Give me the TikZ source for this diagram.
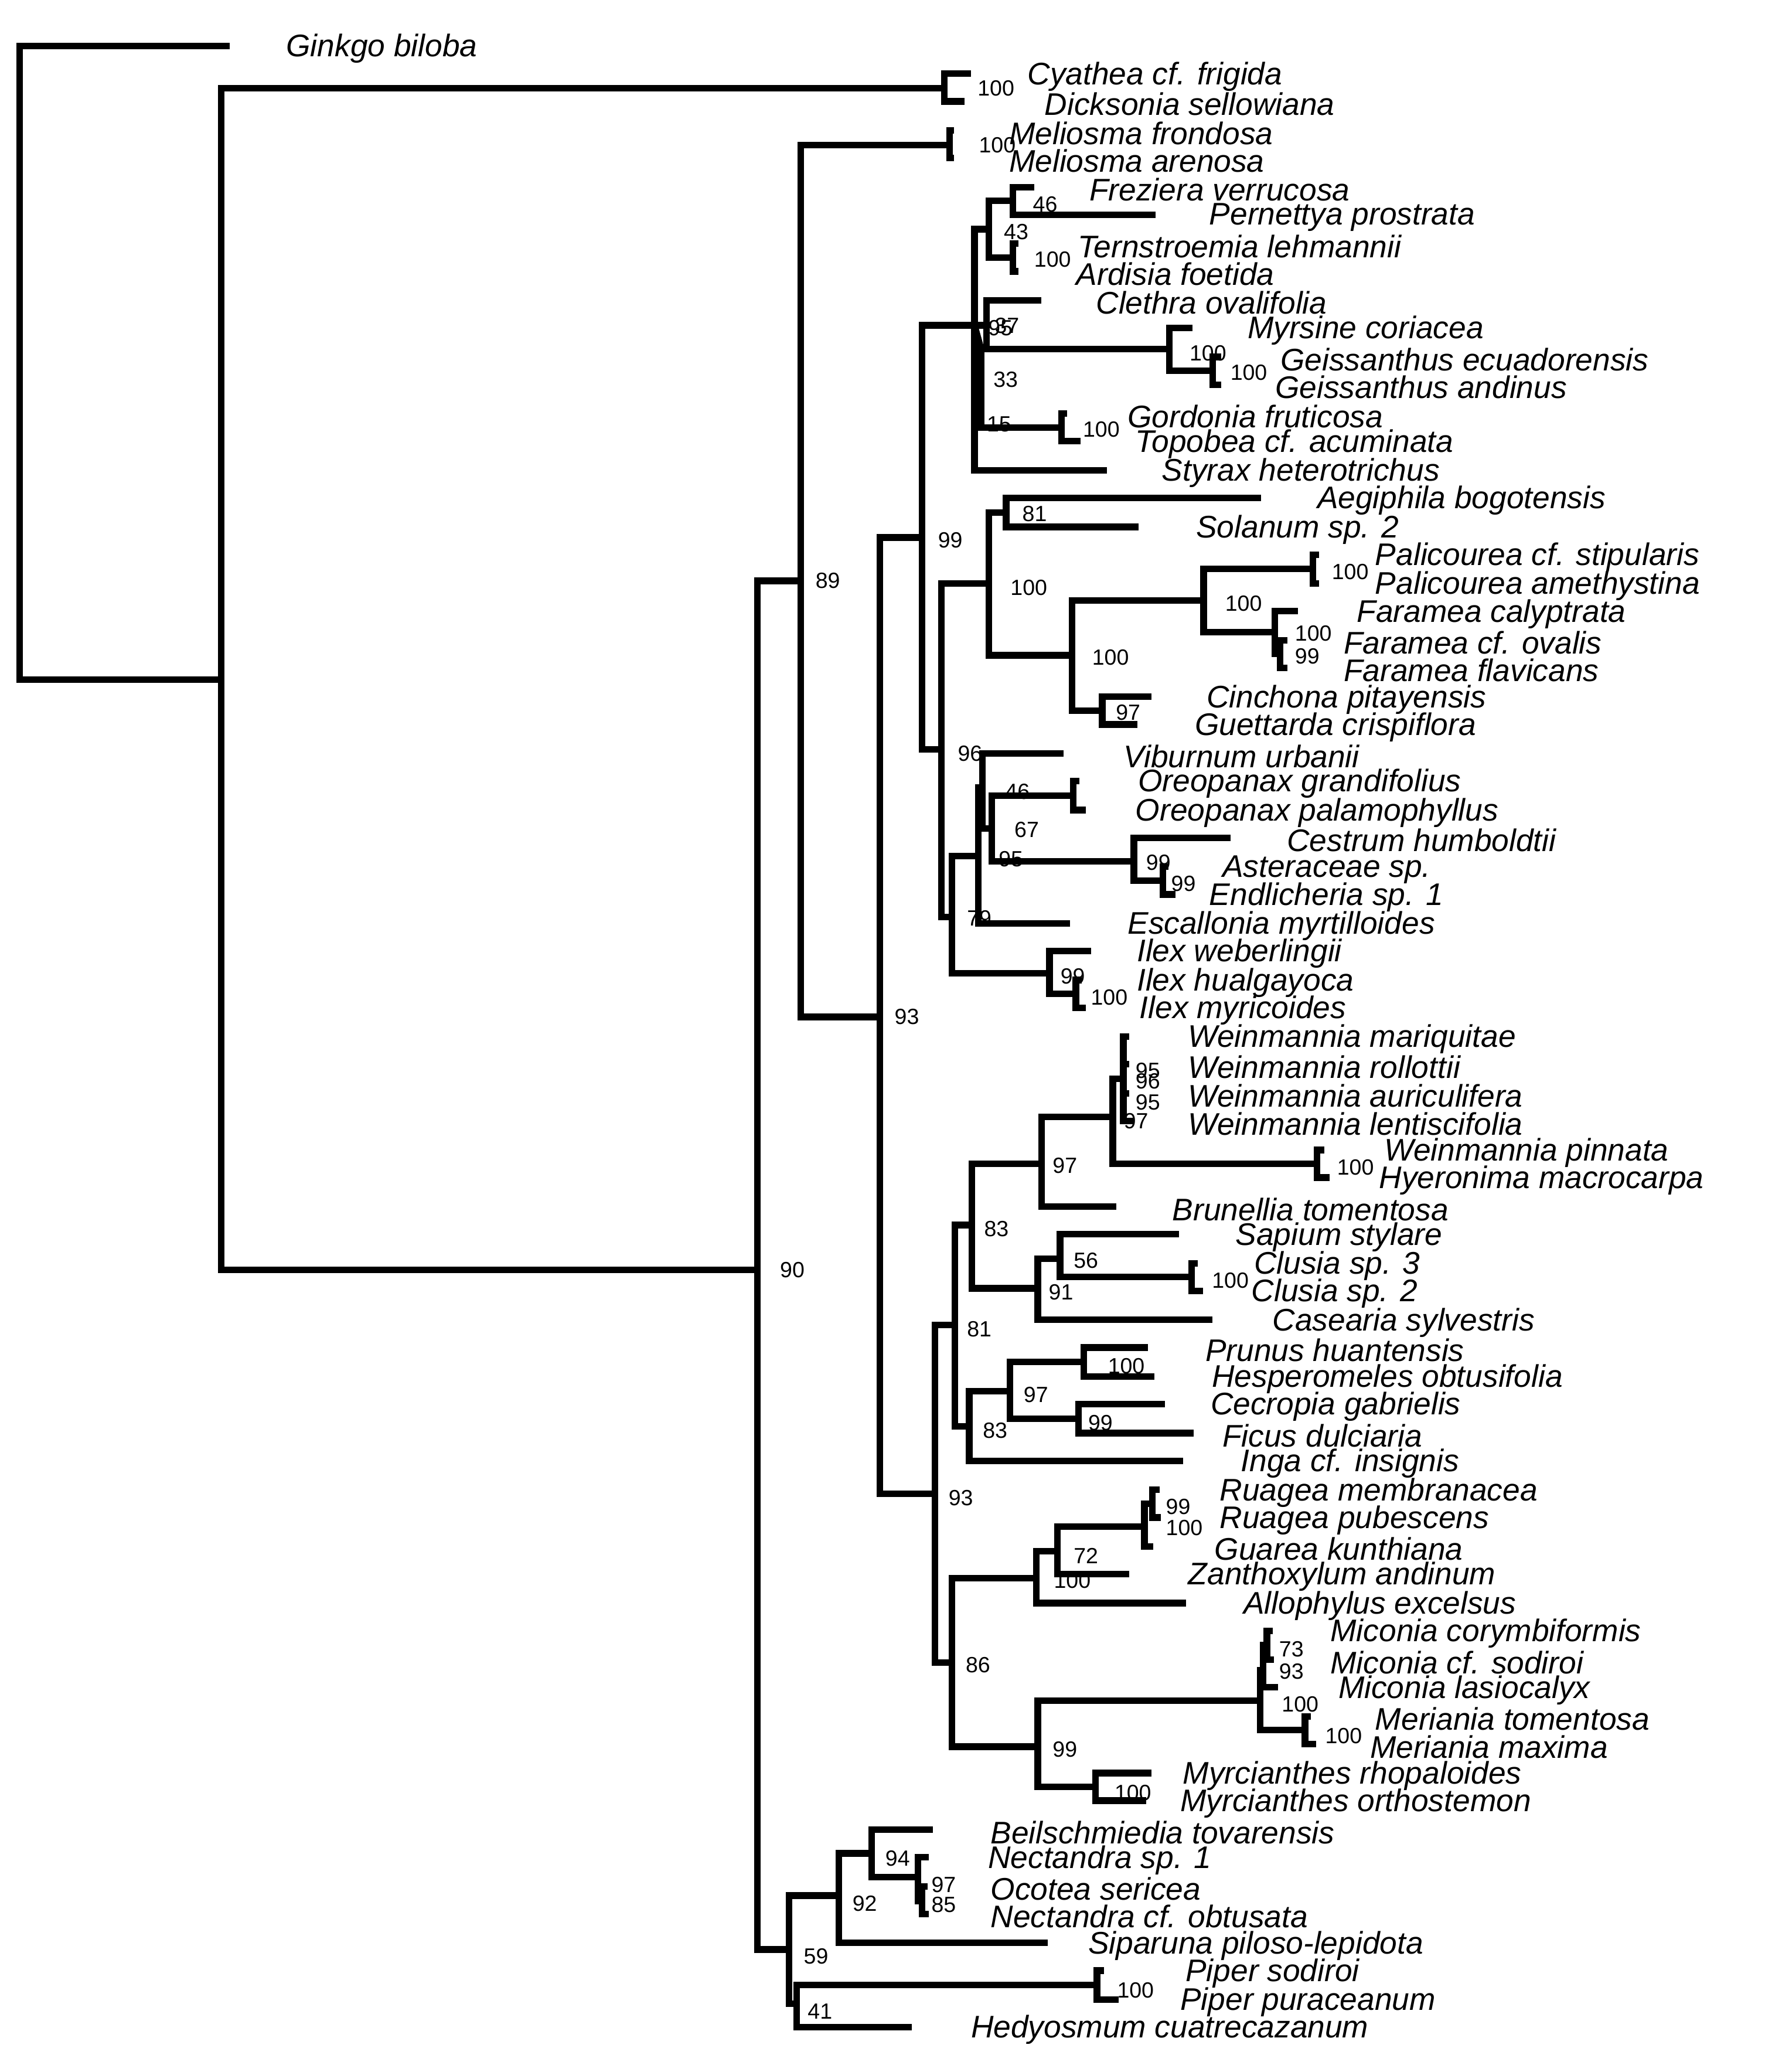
\documentclass[tikz,border=0pt]{standalone}
\usepackage{fontspec}
\setmainfont{Liberation Sans}
\tikzset{
branch/.style = {line width=0.1cm, line cap=rect},
taxon/.style = {anchor=west, inner sep=0pt, yshift=-0.04cm, font=\fontsize{13.5}{15}\selectfont\itshape},
boot/.style = {anchor=west, inner sep=0pt, font=\fontsize{9.5}{11}\selectfont}
}
\begin{document}
\begin{tikzpicture}[x=0.02cm, y=-0.02cm]
\useasboundingbox (0,0) rectangle (1340,1573);

% internal nodes
\coordinate (root) at (15,275);
\coordinate (A) at (168,516);
\coordinate (fern) at (717,67);
\coordinate (B) at (575,964);
\coordinate (C) at (608,441);
\coordinate (mel) at (721,110);
\coordinate (g93) at (668,772);
\coordinate (h99) at (700,408);
\coordinate (eri) at (740,247);
\coordinate (n43) at (751,174);
\coordinate (fre) at (769,152.5);
\coordinate (ter) at (769,195.5);
\coordinate (n37) at (749,247);
\coordinate (n33) at (745,265);
\coordinate (myr) at (888,265);
\coordinate (gei) at (921,281.5);
\coordinate (gor) at (806,324.5);
\coordinate (n96) at (715,569);
\coordinate (n100a) at (751,443);
\coordinate (n81) at (764,389);
\coordinate (rub) at (814,497.5);
\coordinate (pal) at (914,456);
\coordinate (palb) at (997,432);
\coordinate (far) at (968,480);
\coordinate (fin) at (972,496.5);
\coordinate (n97r) at (837,539.5);
\coordinate (n79) at (723,696);
\coordinate (nX) at (743,650);
\coordinate (nY) at (746,598);
\coordinate (nZ) at (753,629);
\coordinate (ore) at (815,604);
\coordinate (ces) at (861,654);
\coordinate (ast) at (883,668.5);
\coordinate (ilex) at (797,739);
\coordinate (ilin) at (817,754.5);
\coordinate (n93b) at (710,1134);
\coordinate (n81b) at (725,1006);
\coordinate (n83a) at (738,930);
\coordinate (n97a) at (791,883.5);
\coordinate (wei) at (845,848);
\coordinate (wpol) at (853,819);
\coordinate (wpin) at (1000,883.5);
\coordinate (n91) at (788,978);
\coordinate (n56) at (805,955.5);
\coordinate (clu) at (905,969.5);
\coordinate (n83b) at (736,1083);
\coordinate (n97b) at (767,1056);
\coordinate (ros) at (823,1034);
\coordinate (mor) at (819,1077);
\coordinate (n86) at (723,1262);
\coordinate (n100c) at (787,1198);
\coordinate (n72) at (803,1177.5);
\coordinate (rua) at (869,1159);
\coordinate (ruin) at (875,1141.5);
\coordinate (n99c) at (788,1326);
\coordinate (mic) at (957,1291);
\coordinate (n93m) at (959,1268);
\coordinate (n73) at (962,1249);
\coordinate (mer) at (991,1313.5);
\coordinate (myrc) at (832,1356.5);
\coordinate (n59) at (599,1480);
\coordinate (n92) at (637,1439);
\coordinate (n94) at (662,1407);
\coordinate (n97n) at (697,1425);
\coordinate (n85) at (700,1443);
\coordinate (n41) at (605,1521);
\coordinate (pip) at (833,1507);

% tips and taxon names
\foreach \n/\t/\y/\l/\s in {
gin/172/35/217/Ginkgo biloba, cya/735/56/780/Cyathea cf. frigida, dic/730/77/793/Dicksonia sellowiana,
mfr/722/99/766/Meliosma frondosa, mar/722/120/766/Meliosma arenosa,
frz/783/142/827/Freziera verrucosa, per/875/163/918/Pernettya prostrata,
trn/771/185/818/Ternstroemia lehmannii, ard/771/206/817/Ardisia foetida,
cle/788/228/832/Clethra ovalifolia, mys/903/249/947/Myrsine coriacea,
gec/925/271/972/Geissanthus ecuadorensis, gan/925/292/968/Geissanthus andinus,
gfr/808/314/856/Gordonia fruticosa, top/818/335/862/Topobea cf. acuminata,
sty/838/357/882/Styrax heterotrichus, aeg/955/378/1000/Aegiphila bogotensis,
sol/862/400/908/Solanum sp. 2, pst/999/421/1044/Palicourea cf. stipularis,
pam/999/443/1044/Palicourea amethystina, fca/983/464/1030/Faramea calyptrata,
fov/975/486/1020/Faramea cf. ovalis, ffl/975/507/1020/Faramea flavicans,
cin/872/529/916/Cinchona pitayensis, gue/861/550/907/Guettarda crispiflora,
vib/805/572/853/Viburnum urbanii, org/817/593/864/Oreopanax grandifolius,
opa/822/615/862/Oreopanax palamophyllus, cst/932/636/977/Cestrum humboldtii,
asp/885/658/928/Asteraceae sp., end/890/679/918/Endlicheria sp. 1,
esc/810/701/856/Escallonia myrtilloides, iwe/826/722/863/Ilex weberlingii,
ihu/819/744/863/Ilex hualgayoca, imy/822/765/865/Ilex myricoides,
wma/855/787/902/Weinmannia mariquitae, wro/855/808/902/Weinmannia rollottii,
wau/855/830/902/Weinmannia auriculifera, wle/858/851/902/Weinmannia lentiscifolia,
wpi/1003/873/1051/Weinmannia pinnata, hye/1007/894/1047/Hyeronima macrocarpa,
bru/845/916/890/Brunellia tomentosa, sap/893/937/938/Sapium stylare,
cl3/907/959/952/Clusia sp. 3, cl2/911/980/950/Clusia sp. 2,
cas/918/1002/966/Casearia sylvestris, pru/869/1023/915/Prunus huantensis,
hes/874/1045/920/Hesperomeles obtusifolia, cec/882/1066/919/Cecropia gabrielis,
fic/904/1088/928/Ficus dulciaria, ing/896/1109/942/Inga cf. insignis,
rme/878/1131/926/Ruagea membranacea, rpu/879/1152/926/Ruagea pubescens,
gku/873/1174/922/Guarea kunthiana, zan/855/1195/902/Zanthoxylum andinum,
all/898/1217/944/Allophylus excelsus, mco/964/1238/1010/Miconia corymbiformis,
mso/965/1260/1010/Miconia cf. sodiroi, mla/968/1281/1016/Miconia lasiocalyx,
mto/993/1303/1044/Meriania tomentosa, mma/997/1324/1040/Meriania maxima,
mrh/872/1346/898/Myrcianthes rhopaloides, mor2/868/1367/896/Myrcianthes orthostemon,
bei/706/1389/752/Beilschmiedia tovarensis, nsp/703/1410/750/Nectandra sp. 1,
oco/702/1432/752/Ocotea sericea, nob/703/1453/752/Nectandra cf. obtusata,
sip/793/1475/826/Siparuna piloso-lepidota, pso/836/1496/900/Piper sodiroi,
ppu/847/1518/896/Piper puraceanum, hed/690/1539/737/Hedyosmum cuatrecazanum}
{
\coordinate (\n) at (\t,\y);
\node[taxon] (\n-l) at (\l,\y) {\s};
}

% branches
\foreach \p/\c in {root/gin, root/A, A/fern, A/B, fern/cya, fern/dic, B/C, B/n59,
C/mel, C/g93, mel/mfr, mel/mar, g93/h99, g93/n93b, h99/eri, h99/n96,
eri/n43, eri/n37, eri/sty, n33/gor, n43/fre, n43/ter, fre/frz, fre/per, ter/trn, ter/ard,
n37/cle, n37/myr, myr/mys, myr/gei, gei/gec, gei/gan, gor/gfr, gor/top,
n96/n100a, n96/n79, n100a/n81, n100a/rub, n81/aeg, n81/sol, rub/pal, rub/n97r,
pal/palb, pal/far, palb/pst, palb/pam, far/fca, far/fin, fin/fov, fin/ffl, n97r/cin, n97r/gue,
n79/nX, n79/ilex, nX/nY, nX/esc, nY/vib, nY/nZ, nZ/ore, nZ/ces, ore/org, ore/opa,
ces/cst, ces/ast, ast/asp, ast/end, ilex/iwe, ilex/ilin, ilin/ihu, ilin/imy,
n93b/n81b, n93b/n86, n81b/n83a, n81b/n83b, n83a/n97a, n83a/n91, n97a/wei, n97a/bru,
wei/wpol, wei/wpin, wpol/wma, wpol/wro, wpol/wau, wpol/wle, wpin/wpi, wpin/hye,
n91/n56, n91/cas, n56/sap, n56/clu, clu/cl3, clu/cl2, n83b/n97b, n83b/ing,
n97b/ros, n97b/mor, ros/pru, ros/hes, mor/cec, mor/fic,
n86/n100c, n86/n99c, n100c/n72, n100c/all, n72/rua, n72/zan, rua/ruin, rua/gku,
ruin/rme, ruin/rpu, n99c/mic, n99c/myrc, mic/n93m, mic/mer, n93m/n73, n93m/mla,
n73/mco, n73/mso, mer/mto, mer/mma, myrc/mrh, myrc/mor2,
n59/n92, n59/n41, n92/n94, n92/sip, n94/bei, n94/n97n, n97n/nsp, n97n/n85,
n85/oco, n85/nob, n41/pip, n41/hed, pip/pso, pip/ppu}
\draw[branch] (\p) |- (\c);
\draw[branch] (eri) -- (n33);

% bootstrap values
\foreach \x/\y/\v in {742/67/100, 592/964/90, 619/441/89, 743/110/100, 679/772/93,
712/410/99, 784/155/46, 762/176/43, 785/197/100, 750/249/95, 755/247/37, 754/288/33,
749/322/15, 903/268/100, 934/283/100, 822/326/100, 776/390/81, 767/446/100, 829/499/100,
930/458/100, 1011/434/100, 983/481/100, 983/498/99, 847/541/97, 727/572/96,
763/601/46, 770/630/67, 758/652/95, 870/655/99, 889/671/99, 734/697/79,
805/741/99, 828/757/100, 862/813/95, 862/821/96, 862/837/95, 853/851/97, 1015/886/100,
799/885/97, 747/933/83, 815/957/56, 796/981/91, 920/972/100, 734/1009/81,
841/1037/100, 777/1059/97, 746/1086/83, 826/1080/99, 720/1137/93,
885/1144/99, 885/1160/100, 815/1181/72, 800/1200/100, 733/1264/86, 799/1328/99,
971/1252/73, 971/1269/93, 973/1294/100, 1006/1318/100, 846/1361/100,
672/1411/94, 707/1431/97, 707/1446/85, 647/1445/92, 610/1485/59, 613/1527/41, 848/1511/100}
\node[boot] at (\x,\y) {\v};

\end{tikzpicture}
\end{document}
